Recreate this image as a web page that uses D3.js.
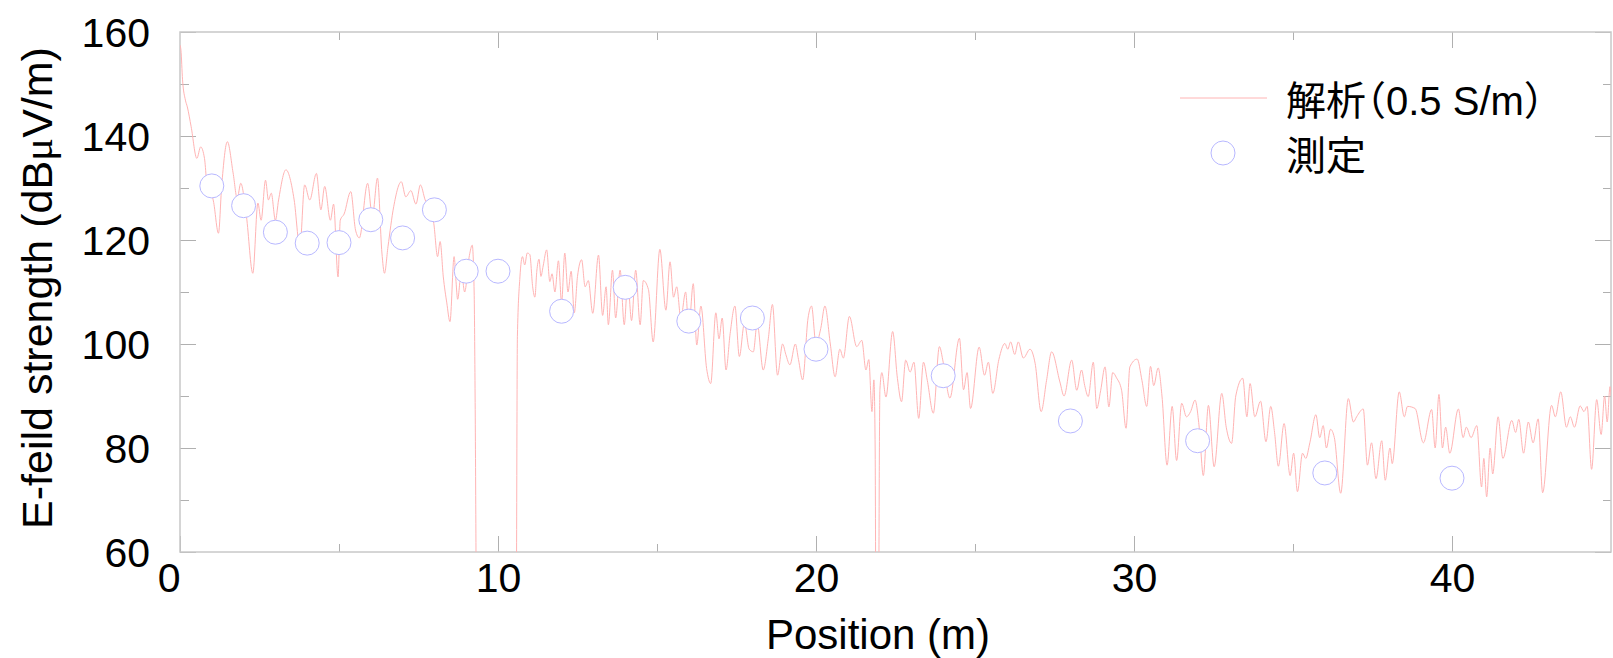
<!DOCTYPE html>
<html>
<head>
<meta charset="utf-8">
<script src="https://cdn.jsdelivr.net/npm/d3@7/dist/d3.min.js"></script>
<style>
  body { margin: 0; background: #fff; }
  text { font-family: "Liberation Sans", Arial, "Noto Sans CJK JP", sans-serif; fill: #000; }
  #legend text { font-feature-settings: "halt" 1; }
</style>
</head>
<body>
<div id="main"></div>
<script>
// tick values
const xMajorTicks = [0, 10, 20, 30, 40];
const xMinorTicks = [5, 15, 25, 35];
const yMajorTicks = [60, 80, 100, 120, 140, 160];
const yMinorTicks = [70, 90, 110, 130, 150];

const legendLabels = ["解析（0.5 S/m）", "測定"];

// measured points (position m, dBuV/m)
const measuredPos = [1, 2, 3, 4, 5, 6, 7, 8, 9, 10, 12, 14, 16, 18, 20, 24, 28, 32, 36, 40];
const measuredField = [130.4, 126.6, 121.5, 119.4, 119.5, 123.9, 120.4, 125.8, 114.0, 114.0,
  106.3, 110.9, 104.4, 105.0, 99.0, 93.9, 85.2, 81.4, 75.2, 74.2];

// analysis curve, peaks and troughs [position, field]
const analysisPoints = [
  [0.0, 157.5], [0.03, 156.5], [0.08, 150.8], [0.17, 146.9], [0.23, 145.6], [0.35, 141.8],
  [0.53, 135.7], [0.65, 137.9], [0.77, 135.7], [0.89, 128.3], [0.95, 129.5], [1.05, 127.5],
  [1.21, 121.3], [1.31, 130.3], [1.49, 138.9], [1.67, 132.9], [1.8, 128], [1.91, 130.9],
  [2.09, 124.5], [2.29, 113.6], [2.45, 127.1], [2.55, 123.8], [2.69, 131.5], [2.78, 127.7],
  [2.87, 129.0], [3.0, 123.8], [3.1, 127.7], [3.33, 133.5], [3.59, 127.7], [3.77, 118.7],
  [3.92, 130.6], [4.08, 127.7], [4.29, 132.8], [4.43, 125.8], [4.55, 130.3], [4.73, 123.8],
  [4.83, 126.9], [4.97, 112.9], [5.04, 123.8], [5.16, 125], [5.37, 129.3], [5.52, 121.9],
  [5.64, 120.4], [5.9, 130.9], [6.05, 124.5], [6.21, 131.9], [6.35, 117.5], [6.43, 113.6],
  [6.54, 118.7], [6.72, 126.4], [6.96, 131.2], [7.1, 128.3], [7.26, 129.5], [7.42, 126.9],
  [7.56, 130.6], [7.71, 127.7], [7.85, 126], [7.98, 123.2], [8.1, 116.8], [8.18, 119.7],
  [8.28, 112.9], [8.39, 107.9], [8.49, 104.3], [8.62, 116.8], [8.68, 112], [8.73, 108.6],
  [8.85, 114], [8.95, 110], [9.1, 117], [9.19, 119], [9.25, 110], [9.28, 90], [9.33, 40],
  [9.4, 20], [10.5, 20], [10.57, 40], [10.61, 101.4], [10.69, 112.9], [10.77, 116.8],
  [10.84, 115.2], [10.92, 117.5], [11.0, 117.2], [11.09, 111.0], [11.16, 109], [11.22, 114],
  [11.29, 116.3], [11.35, 113], [11.42, 115], [11.53, 118.1], [11.63, 112], [11.7, 113.5],
  [11.79, 110], [11.9, 116], [12.0, 108], [12.1, 117.5], [12.2, 110], [12.3, 114], [12.4, 106],
  [12.5, 113], [12.63, 116.2], [12.74, 111], [12.84, 112.2], [12.98, 105.9], [13.16, 117.1],
  [13.29, 105.5], [13.4, 111], [13.47, 103.7], [13.6, 114.2], [13.7, 105], [13.84, 114.2],
  [13.97, 103.7], [14.08, 112], [14.2, 104.5], [14.33, 114.2], [14.47, 103.7], [14.57, 112.2],
  [14.73, 110.5], [14.88, 100.4], [15.09, 118.2], [15.28, 106.5], [15.41, 115.8], [15.52, 109],
  [15.62, 111], [15.75, 105], [15.9, 110], [16.0, 103], [16.14, 111.6], [16.25, 99.8],
  [16.38, 107.3], [16.56, 95.3], [16.69, 92.4], [16.85, 106.0], [16.95, 101], [17.05, 105],
  [17.17, 95], [17.3, 102], [17.45, 107.3], [17.59, 97.6], [17.75, 104], [17.9, 99],
  [18.03, 98.5], [18.15, 104], [18.34, 95], [18.5, 101], [18.63, 107.6], [18.79, 94],
  [18.95, 100], [19.05, 98], [19.18, 96], [19.35, 100], [19.45, 97], [19.58, 93.1],
  [19.75, 105], [19.86, 107.3], [20.0, 100], [20.15, 103], [20.28, 107.3], [20.45, 100],
  [20.6, 93.7], [20.75, 99], [20.86, 97.3], [21.05, 105.3], [21.28, 99.5], [21.44, 100.7],
  [21.57, 95], [21.66, 97], [21.76, 87], [21.82, 93.1], [21.86, 80], [21.88, 50], [21.92, 20],
  [21.96, 20], [21.98, 60], [22.01, 91.2], [22.07, 94.5], [22.2, 89.8], [22.41, 102.4],
  [22.56, 93.4], [22.69, 88.9], [22.82, 96.9], [22.96, 94.6], [23.08, 96.5], [23.23, 85.7],
  [23.38, 96.5], [23.5, 93], [23.69, 86.7], [23.88, 99.5], [24.0, 96.5], [24.21, 89.6],
  [24.51, 101.1], [24.64, 91.2], [24.75, 94.5], [24.86, 87.6], [25.13, 99.4], [25.3, 94],
  [25.42, 96.5], [25.56, 90.5], [25.75, 97], [25.94, 100.1], [26.03, 99], [26.12, 100.4],
  [26.25, 98], [26.36, 100.4], [26.52, 97.3], [26.73, 99], [26.89, 96.3], [27.08, 87],
  [27.25, 93], [27.41, 98.5], [27.67, 92.7], [27.8, 90], [28.04, 96.9], [28.2, 91.1],
  [28.35, 95], [28.45, 92], [28.56, 89.9], [28.72, 96.5], [28.83, 87.6], [28.95, 91],
  [29.09, 95.6], [29.21, 87.9], [29.33, 94.5], [29.45, 93.5], [29.61, 91.1], [29.75, 83.8],
  [29.87, 95.6], [30.1, 97.1], [30.25, 93], [30.4, 88], [30.52, 95.7], [30.62, 92],
  [30.76, 95.4], [30.88, 90], [31.04, 76.7], [31.2, 88], [31.34, 77.6], [31.5, 88.6],
  [31.65, 86], [31.78, 87], [31.92, 89.2], [32.05, 84], [32.18, 74.7], [32.34, 88.2],
  [32.52, 76.4], [32.76, 90.5], [32.9, 84], [33.07, 80.9], [33.2, 90], [33.42, 93.4],
  [33.55, 86], [33.65, 92.4], [33.8, 86], [33.98, 89], [34.15, 81.2], [34.3, 88], [34.42, 83],
  [34.54, 76.5], [34.72, 84.7], [34.91, 74.7], [35.02, 79], [35.14, 71.6], [35.3, 79],
  [35.4, 78], [35.53, 81], [35.72, 86.4], [35.84, 82], [35.95, 84.3], [36.05, 80],
  [36.18, 83.6], [36.3, 82], [36.5, 71.3], [36.74, 89.5], [36.9, 85], [37.0, 86],
  [37.21, 87.5], [37.34, 76.7], [37.47, 81], [37.61, 74.1], [37.79, 81.4], [37.9, 73.8],
  [38.05, 80], [38.12, 77], [38.34, 90.8], [38.5, 86], [38.6, 88], [38.84, 87.6], [39.1, 81],
  [39.36, 87.4], [39.47, 80], [39.59, 90.3], [39.7, 80], [39.8, 84], [39.93, 79], [40.2, 87.5],
  [40.35, 82], [40.45, 84], [40.6, 82], [40.78, 84.3], [40.93, 72.5], [41.0, 78], [41.09, 70.6],
  [41.2, 80], [41.28, 75], [41.45, 86], [41.6, 78], [41.88, 85.3], [42.0, 83], [42.1, 85.5],
  [42.25, 79], [42.4, 85], [42.55, 81], [42.71, 85.6], [42.85, 71.4], [43.13, 88.2],
  [43.25, 86], [43.42, 90.8], [43.6, 84], [43.72, 86], [43.85, 84], [44.03, 88.1], [44.15, 87],
  [44.25, 88], [44.39, 75.9], [44.55, 89.3], [44.69, 82.6], [44.8, 90], [44.88, 85],
  [44.97, 91.8], [45.0, 90]
];

const lineColor = "#ffb4b4";
const dotColor = "#b8b8ff";
const frameColor = "#c8c8c8";
const tickColor = "#b0b0b0";

const margin = { top: 32, right: 2, bottom: 106, left: 180 };
const fullWidth = 1613;
const fullHeight = 658;
const width = fullWidth - margin.left - margin.right;
const height = fullHeight - margin.top - margin.bottom;

const svg = d3.select("#main")
  .append("svg")
  .attr("width", fullWidth)
  .attr("height", fullHeight);

const plot = svg.append("g")
  .attr("transform", `translate(${margin.left}, ${margin.top})`);

const x = d3.scaleLinear().domain([0, 45]).range([0, width]);
const y = d3.scaleLinear().domain([60, 160]).range([height, 0]);

plot.append("clipPath")
  .attr("id", "plot-clip")
  .append("rect")
  .attr("width", width)
  .attr("height", height);

// ticks, all pointing inward
function styleAxis(g) {
  g.select(".domain").remove();
  g.selectAll(".tick line").attr("stroke", tickColor).attr("stroke-width", 1);
  g.selectAll(".tick text").attr("font-size", 41);
}

const bottomAxis = plot.append("g")
  .attr("transform", `translate(0, ${height})`)
  .call(d3.axisBottom(x).tickValues(xMajorTicks).tickSize(-16).tickPadding(11).tickFormat(d3.format("d")))
  .call(styleAxis);
bottomAxis.selectAll(".tick text").filter(d => d === 0).attr("text-anchor", "end");

plot.append("g")
  .attr("transform", `translate(0, ${height})`)
  .call(d3.axisBottom(x).tickValues(xMinorTicks).tickSize(-8).tickFormat(""))
  .call(styleAxis);

plot.append("g")
  .call(d3.axisTop(x).tickValues(xMajorTicks.filter(d => d > 0)).tickSize(-16).tickFormat(""))
  .call(styleAxis);

plot.append("g")
  .call(d3.axisTop(x).tickValues(xMinorTicks).tickSize(-8).tickFormat(""))
  .call(styleAxis);

plot.append("g")
  .call(d3.axisLeft(y).tickValues(yMajorTicks).tickSize(-16).tickPadding(30).tickFormat(d3.format("d")))
  .call(styleAxis)
  .selectAll(".tick text").attr("dy", "0.36em");

plot.append("g")
  .call(d3.axisLeft(y).tickValues(yMinorTicks).tickSize(-9).tickFormat(""))
  .call(styleAxis);

plot.append("g")
  .attr("transform", `translate(${width}, 0)`)
  .call(d3.axisRight(y).tickValues(yMajorTicks).tickSize(-16).tickFormat(""))
  .call(styleAxis);

plot.append("g")
  .attr("transform", `translate(${width}, 0)`)
  .call(d3.axisRight(y).tickValues(yMinorTicks).tickSize(-8).tickFormat(""))
  .call(styleAxis);

// frame
plot.append("rect")
  .attr("width", width)
  .attr("height", height)
  .attr("fill", "none")
  .attr("stroke", frameColor)
  .attr("stroke-width", 1.5);

// analysis line
const line = d3.line()
  .x(d => x(d[0]))
  .y(d => y(d[1]))
  .curve(d3.curveMonotoneX);

plot.append("path")
  .datum(analysisPoints)
  .attr("clip-path", "url(#plot-clip)")
  .attr("fill", "none")
  .attr("stroke", lineColor)
  .attr("stroke-width", 1)
  .attr("d", line);

// measured circles
plot.selectAll("circle.measured")
  .data(measuredPos)
  .enter()
  .append("circle")
  .attr("class", "measured")
  .attr("cx", d => x(d))
  .attr("cy", (d, i) => y(measuredField[i]))
  .attr("r", 12)
  .attr("fill", "#fff")
  .attr("stroke", dotColor)
  .attr("stroke-width", 1);

// axis titles
svg.append("text")
  .attr("x", 878)
  .attr("y", 649)
  .attr("text-anchor", "middle")
  .attr("font-size", 42)
  .text("Position (m)");

const yTitle = svg.append("text")
  .attr("transform", "translate(52, 288) rotate(-90)")
  .attr("text-anchor", "middle")
  .attr("font-size", 43);
yTitle.append("tspan").text("E-feild strength (dB");
yTitle.append("tspan").style("font-family", "'Liberation Serif', serif").text("μ");
yTitle.append("tspan").text("V/m)");

// legend
const legend = svg.append("g").attr("id", "legend");

legend.append("line")
  .attr("x1", 1180).attr("x2", 1267)
  .attr("y1", 98).attr("y2", 98)
  .attr("stroke", lineColor)
  .attr("stroke-width", 1);

legend.append("circle")
  .attr("cx", 1223).attr("cy", 153)
  .attr("r", 12)
  .attr("fill", "#fff")
  .attr("stroke", dotColor)
  .attr("stroke-width", 1);

legend.selectAll("text")
  .data(legendLabels)
  .enter()
  .append("text")
  .attr("x", 1286)
  .attr("y", (d, i) => 115 + i * 55)
  .attr("font-size", 40)
  .text(d => d);
</script>
</body>
</html>
